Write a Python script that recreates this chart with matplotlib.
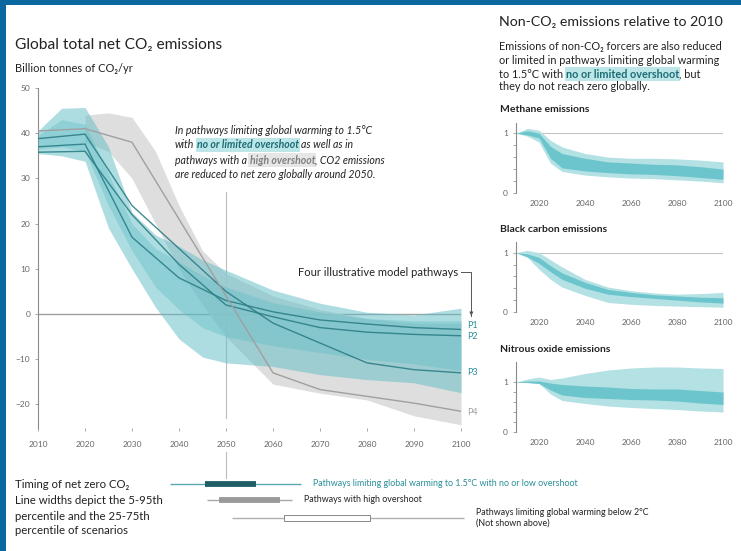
import matplotlib
matplotlib.use("Agg")
import matplotlib.pyplot as plt
from matplotlib.patches import Rectangle

plt.rcParams["font.family"] = ["Lato", "DejaVu Sans"]

W, H = 741, 551

# ---------- data: global net CO2 (GtCO2/yr) ----------
band_years = [2010, 2015, 2020, 2025, 2030, 2035, 2040, 2045, 2050, 2060, 2070, 2080, 2090, 2100]
teal_hi = [40.5, 45.5, 45.7, 37.0, 22.5, 17.5, 15.0, 12.0, 9.7, 5.3, 2.4, 0.4, -0.2, 1.3]
teal_lo = [35.5, 35.0, 33.8, 19.0, 10.0, 1.5, -5.5, -9.5, -10.8, -11.6, -13.4, -14.5, -15.2, -17.4]
mid_hi = [39.5, 43.0, 42.0, 31.0, 20.0, 14.5, 11.5, 8.5, 6.0, 2.5, 0.5, -1.0, -1.5, -1.5]
mid_lo = [36.5, 37.0, 36.0, 24.0, 14.0, 6.0, 1.0, -3.0, -5.0, -7.0, -8.5, -10.0, -11.0, -12.5]

gray_years = [2020, 2025, 2030, 2035, 2040, 2045, 2050, 2060, 2070, 2080, 2090, 2100]
gray_hi = [44.0, 44.5, 43.5, 36.0, 24.0, 14.0, 9.0, 4.0, 1.0, -1.0, -2.0, -2.0]
gray_lo = [38.0, 36.0, 30.0, 20.0, 10.0, 2.0, -5.0, -15.5, -17.5, -19.0, -22.5, -24.5]

path_years = [2010, 2020, 2030, 2040, 2050, 2060, 2070, 2080, 2090, 2100]
p1 = [37.0, 37.6, 17.0, 8.0, 3.0, 0.5, -1.3, -2.2, -3.0, -3.4]
p2 = [35.8, 36.0, 22.0, 11.0, 2.0, -0.6, -3.0, -4.0, -4.5, -4.8]
p3 = [38.8, 39.8, 24.0, 14.5, 5.0, -2.0, -6.4, -10.8, -12.3, -13.0]
p4 = [40.5, 41.0, 38.0, 21.0, 4.0, -13.0, -16.7, -18.2, -19.7, -21.5]
path_names = ["P1", "P2", "P3", "P4"]
path_label_y = [-2.6, -4.9, -13.0, -21.8]

# ---------- data: timing of net zero CO2 ----------
timing_outer = [(2038, 2066), (2046, 2064), (2051.3, 2100.6)]
timing_inner = [(2045.5, 2056.3), (2048.5, 2061.5), (2062.3, 2080.6)]
timing_text = ["Pathways limiting global warming to 1.5°C with no or low overshoot",
               "Pathways with high overshoot",
               "Pathways limiting global warming below 2°C\n(Not shown above)"]

# ---------- data: non-CO2 relative to 2010 ----------
nc_years = [2010, 2015, 2020, 2025, 2030, 2040, 2050, 2060, 2070, 2080, 2090, 2100]
ch4_out_hi = [1.0, 1.08, 1.05, 0.88, 0.77, 0.66, 0.60, 0.58, 0.58, 0.57, 0.55, 0.52]
ch4_out_lo = [1.0, 0.95, 0.85, 0.50, 0.36, 0.30, 0.27, 0.25, 0.24, 0.22, 0.20, 0.17]
ch4_in_hi = [1.0, 1.04, 1.00, 0.78, 0.66, 0.58, 0.52, 0.50, 0.48, 0.47, 0.44, 0.40]
ch4_in_lo = [1.0, 0.97, 0.92, 0.58, 0.42, 0.37, 0.34, 0.32, 0.31, 0.29, 0.26, 0.23]

bc_out_hi = [1.0, 1.04, 1.00, 0.88, 0.76, 0.55, 0.42, 0.36, 0.32, 0.30, 0.31, 0.33]
bc_out_lo = [1.0, 0.92, 0.72, 0.55, 0.42, 0.28, 0.16, 0.13, 0.11, 0.10, 0.09, 0.08]
bc_in_hi = [1.0, 0.98, 0.92, 0.78, 0.66, 0.50, 0.38, 0.33, 0.29, 0.27, 0.25, 0.24]
bc_in_lo = [1.0, 0.93, 0.82, 0.68, 0.55, 0.40, 0.30, 0.26, 0.23, 0.20, 0.17, 0.15]

n2o_out_hi = [1.0, 1.06, 1.10, 1.05, 1.08, 1.17, 1.24, 1.28, 1.30, 1.30, 1.28, 1.27]
n2o_out_lo = [1.0, 0.99, 0.97, 0.76, 0.63, 0.57, 0.52, 0.49, 0.47, 0.45, 0.42, 0.40]
n2o_in_hi = [1.0, 1.02, 1.02, 0.98, 0.95, 0.92, 0.90, 0.87, 0.86, 0.86, 0.83, 0.80]
n2o_in_lo = [1.0, 0.99, 0.97, 0.84, 0.74, 0.69, 0.67, 0.65, 0.64, 0.62, 0.58, 0.55]

# ---------- style ----------
TEXT = "#222222"
TICK = "#666666"
TEAL = "#5dbdc5"
TEAL_LINE = "#2d7e86"
TEAL_TXT = "#2a8f98"
GRAY_BAND = "#d9d9d9"
GRAY_LINE = "#a0a0a0"
PANEL_LIGHT = "#b3e1e4"
PANEL_DARK = "#6cc5cc"
BORDER = "#0a67a0"

fig = plt.figure(figsize=(W / 100, H / 100), dpi=100)
fig.patch.set_facecolor("white")
renderer = fig.canvas.get_renderer()


def px_axes(x0, y0, x1, y1):
    return fig.add_axes([x0 / W, 1 - y1 / H, (x1 - x0) / W, (y1 - y0) / H])


def ftext(x, y, s, **kw):
    kw.setdefault("color", TEXT)
    kw.setdefault("va", "center")
    return fig.text(x / W, 1 - y / H, s, **kw)


def space_width(**kw):
    a = fig.text(0, 0, "a a", **kw)
    b = fig.text(0, 0, "aa", **kw)
    w = a.get_window_extent(renderer).width - b.get_window_extent(renderer).width
    a.remove()
    b.remove()
    return w


def rich_line(x, y, parts, **kw):
    sp = space_width(**kw)
    for i, (s, hl) in enumerate(parts):
        style = dict(kw)
        style.setdefault("color", TEXT)
        if hl == "teal":
            style.update(color="#1c6c74", weight="bold",
                         bbox=dict(facecolor="#bde6e9", edgecolor="none", pad=0.8))
        elif hl == "gray":
            style.update(color="#808080", weight="bold",
                         bbox=dict(facecolor="#e6e6e6", edgecolor="none", pad=0.8))
        if i > 0 and not s.startswith(","):
            x += sp
        t = fig.text(x / W, 1 - y / H, s, ha="left", va="center", **style)
        x += t.get_window_extent(renderer).width


# ---------- blue frame ----------
fig.add_artist(Rectangle((0, 0), 6 / W, 1, transform=fig.transFigure,
                         color=BORDER, lw=0, zorder=10))
fig.add_artist(Rectangle((0, 1 - 5 / H), 1, 5 / H, transform=fig.transFigure,
                         color=BORDER, lw=0, zorder=10))

# ---------- main CO2 panel ----------
ax = px_axes(38, 88, 461, 428)
ax.set_xlim(2010, 2100)
ax.set_ylim(-25.2, 50)
for s in ["top", "right", "bottom"]:
    ax.spines[s].set_visible(False)
ax.spines["left"].set_color("#8a8a8a")
ax.spines["left"].set_linewidth(0.8)
ax.set_xticks(range(2010, 2101, 10))
ax.set_yticks(range(-20, 51, 10))
ax.tick_params(axis="x", length=2.5, width=0.6, color="#999999", labelsize=6,
               labelcolor=TICK, pad=7)
ax.tick_params(axis="y", length=2.5, width=0.6, color="#999999", labelsize=6,
               labelcolor=TICK, pad=3)
ax.patch.set_alpha(0)

ax.axhline(0, color="#a0a0a0", lw=1.0, zorder=0.5)
ax.plot([2050, 2050], [27, -23], color="#bdbdbd", lw=0.8, zorder=0.4)

ax.fill_between(gray_years, gray_lo, gray_hi, color=GRAY_BAND, alpha=0.85, lw=0, zorder=1)
ax.fill_between(band_years, teal_lo, teal_hi, color=TEAL, alpha=0.5, lw=0, zorder=2)
ax.fill_between(band_years, mid_lo, mid_hi, color=TEAL, alpha=0.38, lw=0, zorder=3)

for vals in [p1, p2, p3]:
    ax.plot(path_years, vals, color=TEAL_LINE, lw=1.0, alpha=0.9, zorder=4)
ax.plot(path_years, p4, color=GRAY_LINE, lw=1.0, zorder=4)

for name, yv in zip(path_names, path_label_y):
    ax.text(2101.3, yv, name, fontsize=6.5, va="center", ha="left",
            color=GRAY_LINE if name == "P4" else TEAL_TXT, clip_on=False)

ax.text(2099.3, 9.2, "Four illustrative model pathways", fontsize=8,
        ha="right", va="center", color=TEXT)
ax.plot([2100.0, 2102.2, 2102.2], [9.2, 9.2, -0.5], color="#555555", lw=0.7,
        clip_on=False)
ax.annotate("", xy=(2102.2, -1.0), xytext=(2102.2, 0.5),
            arrowprops=dict(arrowstyle="-|>", color="#555555", lw=0.7,
                            mutation_scale=5), annotation_clip=False)

# titles
ftext(15, 45, "Global total net CO₂ emissions", fontsize=11.2)
ftext(15, 69, "Billion tonnes of CO₂/yr", fontsize=8)

ann = dict(fontsize=7.6, style="italic")
rich_line(175, 130, [("In pathways limiting global warming to 1.5°C", None)], **ann)
rich_line(175, 145, [("with", None), ("no or limited overshoot", "teal"),
                     ("as well as in", None)], **ann)
rich_line(175, 160, [("pathways with a", None), ("high overshoot", "gray"),
                     (", CO2 emissions", None)], **ann)
rich_line(175, 175, [("are reduced to net zero globally around 2050.", None)], **ann)

# ---------- timing of net zero ----------
axb = px_axes(38, 448, 461, 540)
axb.set_xlim(2010, 2100)
axb.set_ylim(540, 448)
axb.axis("off")
axb.plot([2050, 2050], [452, 478], color="#bdbdbd", lw=0.8)
bar_y = [484, 500, 518]
axb.hlines(bar_y[0], *timing_outer[0], color="#5aa9b0", lw=1.0)
axb.hlines(bar_y[0], *timing_inner[0], color="#1f5f66", lw=4.2)
axb.hlines(bar_y[1], *timing_outer[1], color="#a8a8a8", lw=1.0)
axb.hlines(bar_y[1], *timing_inner[1], color="#999999", lw=4.2)
axb.hlines(bar_y[2], *timing_outer[2], color="#b0b0b0", lw=1.0, clip_on=False)
lo, hi = timing_inner[2]
axb.add_patch(Rectangle((lo, bar_y[2] - 3), hi - lo, 6, facecolor="white",
                        edgecolor="#888888", lw=0.7, zorder=3))
text_cols = [TEAL_TXT, TEXT, TEXT]
for y, (lo, hi), s, c in zip(bar_y, timing_outer, timing_text, text_cols):
    axb.text(hi + 2.5, y - 1 if "\n" not in s else y, s, fontsize=6.4, color=c,
             va="center", ha="left", clip_on=False, linespacing=1.3)

ftext(15, 484, "Timing of net zero CO₂", fontsize=8.2)
ftext(15, 501, "Line widths depict the 5-95th", fontsize=8.2)
ftext(15, 516, "percentile and the 25-75th", fontsize=8.2)
ftext(15, 531, "percentile of scenarios", fontsize=8.2)

# ---------- non-CO2 panels ----------
ftext(499, 22, "Non-CO₂ emissions relative to 2010", fontsize=10.2)
para = dict(fontsize=7.8)
rich_line(499, 46, [("Emissions of non-CO₂ forcers are also reduced", None)], **para)
rich_line(499, 60, [("or limited in pathways limiting global warming", None)], **para)
rich_line(499, 74, [("to 1.5°C with", None), ("no or limited overshoot", "teal"),
                    (", but", None)], **para)
rich_line(499, 87, [("they do not reach zero globally.", None)], **para)

panels = [
    ("Methane emissions", 110, (516, 123, 723, 193), 1.17,
     ch4_out_lo, ch4_out_hi, ch4_in_lo, ch4_in_hi),
    ("Black carbon emissions", 230, (516, 242, 723, 312), 1.18,
     bc_out_lo, bc_out_hi, bc_in_lo, bc_in_hi),
    ("Nitrous oxide emissions", 350, (516, 362, 723, 432), 1.4,
     n2o_out_lo, n2o_out_hi, n2o_in_lo, n2o_in_hi),
]
for title, ty, box, ymax, olo, ohi, ilo, ihi in panels:
    ftext(500, ty, title, fontsize=7.5, weight="bold")
    pa = px_axes(*box)
    pa.set_xlim(2010, 2100)
    pa.set_ylim(0, ymax)
    pa.patch.set_alpha(0)
    for s in ["top", "right", "bottom"]:
        pa.spines[s].set_visible(False)
    pa.spines["left"].set_color("#8a8a8a")
    pa.spines["left"].set_linewidth(0.8)
    pa.axhline(1, color="#c4c4c4", lw=0.8, zorder=0.5)
    pa.fill_between(nc_years, olo, ohi, color=PANEL_LIGHT, lw=0, zorder=1)
    pa.fill_between(nc_years, ilo, ihi, color=PANEL_DARK, lw=0, zorder=2)
    pa.set_xticks(range(2020, 2101, 20))
    pa.set_yticks([0, 1])
    pa.set_yticks([0.2, 0.4, 0.6, 0.8], minor=True)
    pa.tick_params(axis="x", length=0, labelsize=6, labelcolor=TICK, pad=5)
    pa.tick_params(axis="y", which="both", length=2, width=0.6, color="#999999",
                   labelsize=6, labelcolor=TICK, pad=4)

fig.savefig("out.png", dpi=100, facecolor="white")
